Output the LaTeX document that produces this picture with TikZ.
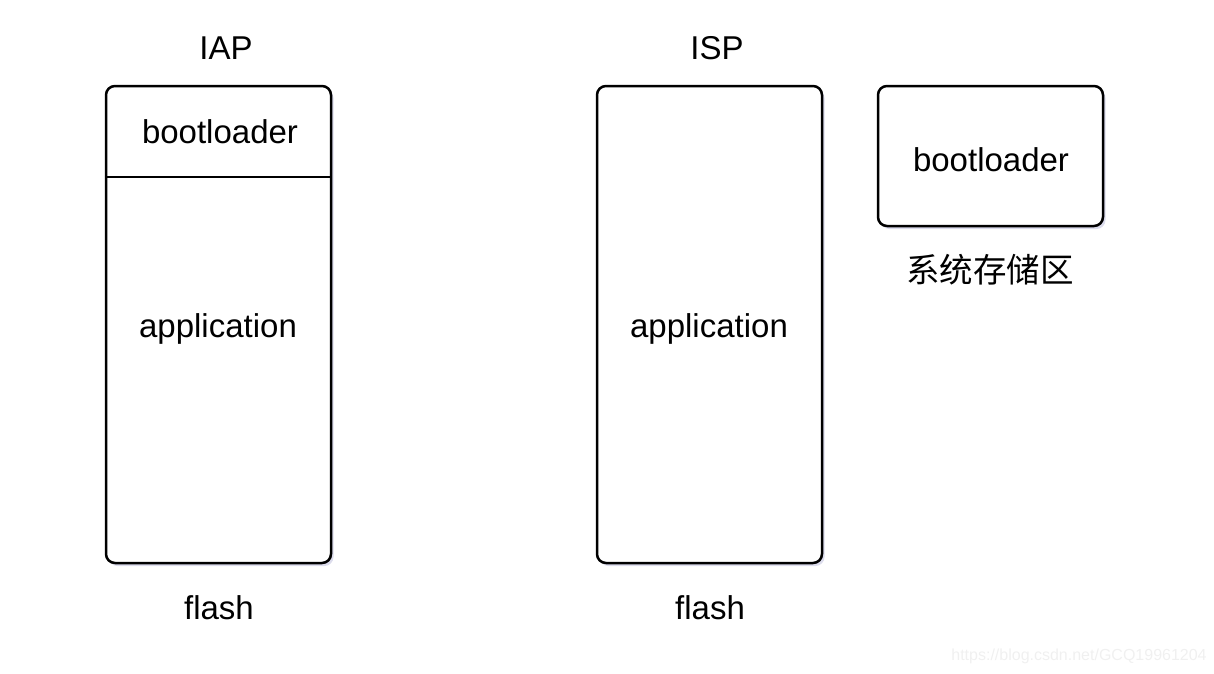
\documentclass[tikz,border=0pt]{standalone}
\usepackage{fontspec}
\setmainfont{Liberation Sans}
\newfontfamily\cjk{Noto Sans CJK SC}
\usetikzlibrary{shadows}
\begin{document}
\begin{tikzpicture}[x=1pt,y=-1pt,
  mem/.style={draw=black, line width=2.5pt, rounded corners=9pt, fill=white, inner sep=0pt,
    drop shadow={shadow xshift=2.5pt, shadow yshift=-3pt, fill=blue!30!gray!35, opacity=0.6}},
  lbl/.style={font=\fontsize{33}{36}\selectfont, inner sep=0pt, anchor=center},
  cjklbl/.style={font=\cjk\fontsize{33.5}{36}\selectfont, inner sep=0pt, anchor=center},
  wmark/.style={font=\fontsize{16}{18}\selectfont, text=black!6, inner sep=0pt, anchor=center}]
\useasboundingbox (0,0) rectangle (1214,673);
% boxes
\node[mem, minimum width=225pt, minimum height=477pt] (iap) at (218.5,324.5) {};
\node[mem, minimum width=225pt, minimum height=477pt] (isp) at (709.5,324.5) {};
\node[mem, minimum width=225pt, minimum height=140pt] (sys) at (990.5,156) {};
\coordinate (dl) at (iap.west |- 0,177);
\coordinate (dr) at (iap.east |- 0,177);
\draw[line width=2.5pt] (dl) -- (dr);
% texts
\node[lbl] (t1) at (226,48) {IAP};
\node[lbl] (t2) at (717,48) {ISP};
\node[lbl] (b1) at (220,132) {bootloader};
\node[lbl] (a1) at (218,329) {application};
\node[lbl] (f1) at (219,608) {flash};
\node[lbl] (a2) at (709,329) {application};
\node[lbl] (f2) at (710,608) {flash};
\node[lbl] (b2) at (991,160) {bootloader};
\node[cjklbl] (c1) at (990,270) {系统存储区};
\node[wmark] (w) at (1079,656) {https://blog.csdn.net/GCQ19961204};
\end{tikzpicture}
\end{document}
